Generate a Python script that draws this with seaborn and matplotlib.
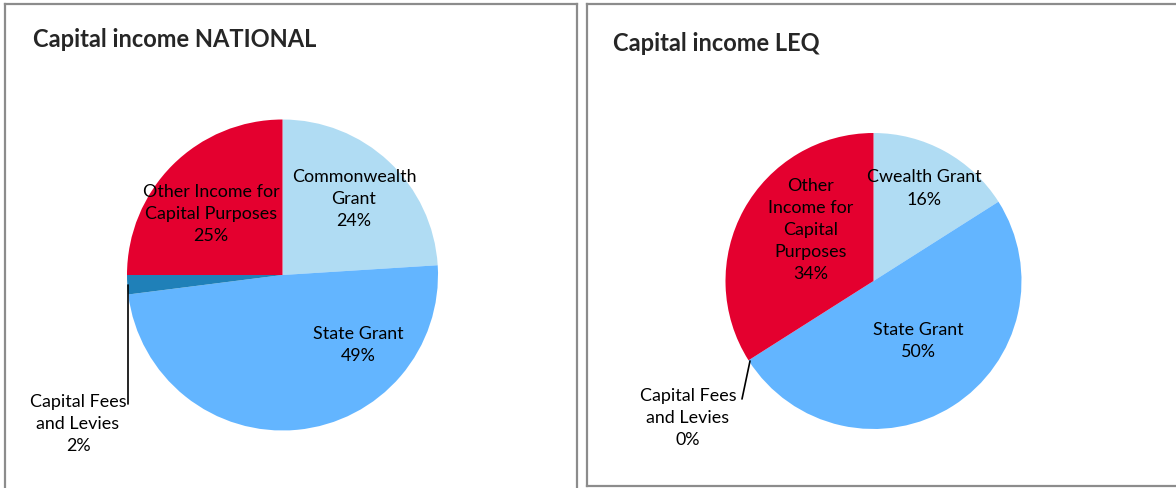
import matplotlib
matplotlib.use("Agg")
import matplotlib.pyplot as plt
import seaborn as sns

sns.set_theme(style="white")
plt.rcParams["font.family"] = ["Lato", "DejaVu Sans"]

# Slice order: clockwise from 12 o'clock
national_labels = ["Commonwealth\nGrant", "State Grant", "Capital Fees\nand Levies",
                   "Other Income for\nCapital Purposes"]
national_values = [24, 49, 2, 25]

leq_labels = ["Cwealth Grant", "State Grant", "Capital Fees\nand Levies",
              "Other\nIncome for\nCapital\nPurposes"]
leq_values = [16, 50, 0, 34]

colors = sns.color_palette(["#B0DCF3", "#63B5FF", "#1F80B8", "#E4002F"])

W, H = 1176, 489
fig = plt.figure(figsize=(W / 100, H / 100), dpi=100)
fig.patch.set_facecolor("white")


def panel(x0, y0, x1, y1):
    """Axes covering a pixel box (top-left origin); data units are pixels, y up."""
    ax = fig.add_axes([x0 / W, 1 - y1 / H, (x1 - x0) / W, (y1 - y0) / H])
    return ax, (x0, x1, H - y1, H - y0)


def finish(ax, lims, hide=()):
    ax.set_xlim(lims[0], lims[1])
    ax.set_ylim(lims[2], lims[3])
    ax.set_aspect("equal", adjustable="datalim")
    ax.set_xticks([])
    ax.set_yticks([])
    ax.set_frame_on(True)
    for name, sp in ax.spines.items():
        sp.set_color("#8C8C8C")
        sp.set_linewidth(1.6)
        sp.set_visible(name not in hide)
    ax.set_facecolor("white")


label_kw = dict(fontsize=12.9, ha="center", va="center", color="black",
                linespacing=1.47)
title_kw = dict(fontsize=17.0, fontweight="bold", ha="left", va="baseline")

# ---- NATIONAL ----
axL, limL = panel(4.5, 5, 576.5, 495)
axL.pie(national_values, colors=colors, startangle=90, counterclock=False,
        center=(282.5, H - 276), radius=155.5, wedgeprops=dict(linewidth=0))
finish(axL, limL, hide=("bottom",))
axL.text(33, H - 47, "Capital income NATIONAL", **title_kw)
posL = [(354, H - 199), (358, H - 345), (78, H - 424), (211, H - 214)]
for lab, v, (x, y) in zip(national_labels, national_values, posL):
    axL.text(x, y, f"{lab}\n{v:.0f}%", **label_kw)
axL.plot([128, 128], [H - 286, H - 405], color="black", lw=1.2)

# ---- LEQ ----
axR, limR = panel(587, 5, 1185, 487)
axR.pie(leq_values, colors=colors, startangle=90, counterclock=False,
        center=(873.5, H - 282), radius=148, wedgeprops=dict(linewidth=0))
finish(axR, limR, hide=("right",))
axR.text(613, H - 51, "Capital income LEQ", **title_kw)
posR = [(924, H - 188.5), (918, H - 341), (688, H - 418), (811, H - 230)]
for lab, v, (x, y) in zip(leq_labels, leq_values, posR):
    axR.text(x, y, f"{lab}\n{v:.0f}%", **label_kw)
axR.plot([750, 742], [H - 362, H - 400], color="black", lw=1.2)

fig.savefig("out.png", dpi=100, facecolor="white")
